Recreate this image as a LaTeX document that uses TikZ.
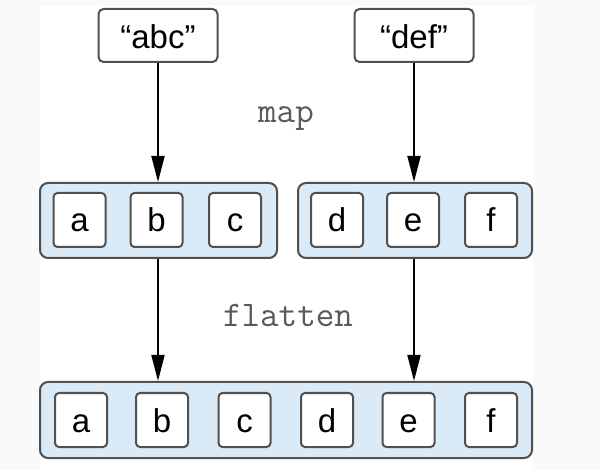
\documentclass[tikz,border=0pt]{standalone}
\usepackage{fontspec}
\setmainfont{Liberation Sans}
\usetikzlibrary{arrows.meta}
\definecolor{groupblue}{HTML}{DAEAF7}
\definecolor{linegray}{HTML}{505050}
\definecolor{labelgray}{HTML}{5A5A5A}
\definecolor{pagegray}{HTML}{FAFAFA}

\begin{document}
\begin{tikzpicture}[x=1pt,y=-1pt,
	word/.style={shape=rectangle,rounded corners=5pt,draw=linegray,line width=2pt,fill=white,minimum width=119pt,minimum height=53pt,text height=27pt,text depth=0pt,font=\fontsize{33}{40}\selectfont},
	letter/.style={shape=rectangle,rounded corners=4pt,draw=linegray,line width=2pt,fill=white,minimum width=52pt,minimum height=54pt,inner sep=0pt,text height=24pt,text depth=0pt,font=\fontsize{33}{40}\selectfont},
	group/.style={shape=rectangle,rounded corners=8pt,draw=linegray,line width=2pt,fill=groupblue,minimum height=75pt},
	opname/.style={anchor=base,text=labelgray,font=\ttfamily\fontsize{36}{40}\selectfont},
	arr/.style={-{Triangle[length=26pt,width=13pt]},line width=1.8pt}]

	\fill[pagegray] (0,0) rectangle (600,470);
	\fill[white] (40,6) rectangle (533,470);
	\useasboundingbox (0,0) rectangle (600,470);

	\node[word] (abc) at (158, 35.5) {“abc”};
	\node[word] (def) at (414, 35.5) {“def”};

	\node[group,minimum width=237pt] (left)  at (158.5, 220.5) {};
	\node[group,minimum width=234pt] (right) at (415, 220.5)   {};
	\node[group,minimum width=492pt,minimum height=76pt] (all) at (286, 420) {};

	\node[letter] (a1) at (79.5, 220)  {a};
	\node[letter] (b1) at (156.5, 220) {b};
	\node[letter] (c1) at (235, 220)   {c};
	\node[letter] (d1) at (337, 220)   {d};
	\node[letter] (e1) at (413, 220)   {e};
	\node[letter] (f1) at (491, 220)   {f};

	\node[letter] (a2) at (81, 420)    {a};
	\node[letter] (b2) at (162, 420)   {b};
	\node[letter] (c2) at (244.5, 420) {c};
	\node[letter] (d2) at (327, 420)   {d};
	\node[letter] (e2) at (408.5, 420) {e};
	\node[letter] (f2) at (491, 420)   {f};

	\node[opname] (map) at (286, 123)     {map};
	\node[opname] (flatten) at (288, 327) {flatten};

	\draw[arr] (abc) -- (abc |- left.north);
	\draw[arr] (def) -- (def |- right.north);
	\draw[arr] (abc |- left.south) -- (abc |- all.north);
	\draw[arr] (def |- right.south) -- (def |- all.north);

\end{tikzpicture}
\end{document}
